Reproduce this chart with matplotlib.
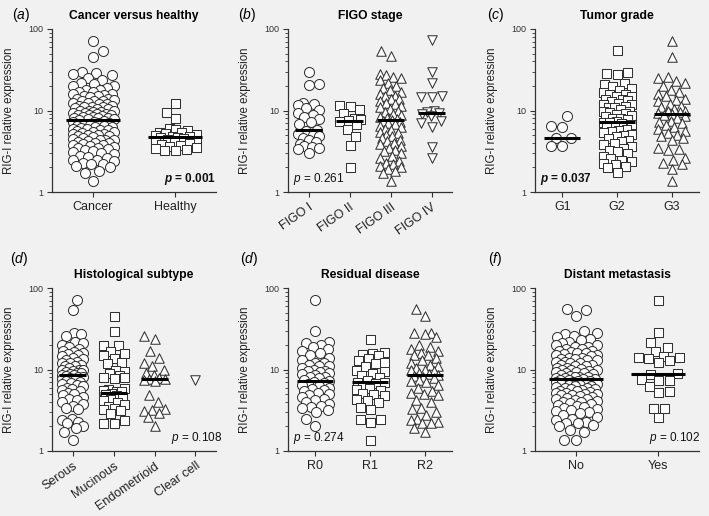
import numpy as np
import matplotlib.pyplot as plt

plt.rcParams['font.family'] = ['Liberation Sans', 'DejaVu Sans']
plt.rcParams['mathtext.fontset'] = 'custom'
plt.rcParams['mathtext.rm'] = 'Liberation Sans'
plt.rcParams['mathtext.it'] = 'Liberation Sans:italic'
plt.rcParams['mathtext.bf'] = 'Liberation Sans:bold'
plt.rcParams['mathtext.bfit'] = 'Liberation Sans:bold:italic'

BG = '#f1f1f1'
EDGE = '#333333'

# ---- data (RIG-I relative expression) ----
cancer = [72, 53, 45, 30, 29, 28, 27, 25, 24, 22, 21, 20, 20, 19, 18, 18, 17, 17, 16, 16,
          15.5, 15, 15, 14.5, 14, 14, 13.5, 13, 13, 13, 12.5, 12.5, 12, 12, 11.5, 11.5, 11, 11, 11,
          10.8, 10.5, 10.3, 10, 10, 9.8, 9.6, 9.5, 9.4, 9.2, 9, 9, 8.9, 8.8, 8.7, 8.5, 8.4, 8.3,
          8.2, 8, 8, 7.9, 7.8, 7.7, 7.5, 7.3, 7.2, 7, 7, 6.8, 6.6, 6.5, 6.4, 6.3, 6.2, 6.1, 6, 6,
          5.8, 5.7, 5.6, 5.5, 5.4, 5.3, 5.2, 5.1, 5, 5, 4.9, 4.8, 4.7, 4.6, 4.5, 4.4, 4.4, 4.3,
          4.2, 4.1, 4, 4, 3.9, 3.8, 3.8, 3.7, 3.6, 3.5, 3.5, 3.4, 3.3, 3.2, 3.1, 3, 2.9, 2.8, 2.7,
          2.6, 2.5, 2.5, 2.4, 2.3, 2.2, 2.2, 2.1, 2, 1.8, 1.7, 1.35]
healthy = [12.2, 9.5, 8.2, 6.1, 5.9, 5.7, 5.5, 5.4, 5.3, 5.2, 5.0, 4.9, 4.8, 4.7, 4.7, 4.6,
           4.5, 4.4, 4.2, 4.1, 4.0, 3.9, 3.8, 3.7, 3.6, 3.5, 3.4, 3.3, 3.3]

figo1 = [30, 21, 20.5, 12.3, 12, 11.8, 10.8, 10.2, 9.2, 8.8, 8.4, 7.8, 7.2, 6.8, 5.8, 5.6,
         5.2, 5.0, 4.8, 4.6, 4.3, 4.1, 3.9, 3.7, 3.6, 3.5, 3.4, 3.0]
figo2 = [11.7, 11.5, 10.5, 9.2, 8.2, 7.8, 7.6, 7.4, 6.9, 6.0, 4.9, 3.8, 2.0]
figo3 = [54, 46, 28, 27, 26, 25, 24, 22, 20, 19, 18, 17, 16, 15, 15, 14, 14, 13, 12.5, 12,
         11.5, 11, 10.5, 10, 9.5, 9, 8.7, 8.3, 8, 7.8, 7.6, 7.5, 7.3, 7, 6.8, 6.5, 6.2, 6, 5.8,
         5.5, 5.3, 5, 4.8, 4.6, 4.4, 4.2, 4, 3.9, 3.7, 3.5, 3.3, 3.2, 3, 2.8, 2.6, 2.4, 2.3,
         2.2, 2.1, 2.0, 1.9, 1.8, 1.7, 1.35]
figo4 = [73, 30, 22, 15, 14.5, 14.5, 10, 9.6, 9.3, 9, 8.6, 7.4, 7, 6.2, 3.6, 2.6]

g1 = [8.5, 6.4, 6.3, 4.6, 4.6, 3.7, 3.7]
g2 = [55, 30, 29, 28, 22, 21, 20, 19, 18, 17, 16, 16, 15, 15, 14, 14, 13.5, 13, 12.5, 12, 12,
      11.5, 11, 11, 10.5, 10, 10, 9.5, 9.2, 9, 8.7, 8.5, 8.2, 8, 7.8, 7.5, 7.3, 7.2, 7, 6.8,
      6.5, 6.2, 6, 5.8, 5.6, 5.4, 5.2, 5, 4.8, 4.6, 4.4, 4.2, 4, 3.9, 3.7, 3.5, 3.3, 3.2, 3,
      2.8, 2.6, 2.5, 2.4, 2.3, 2.2, 2.1, 2.0, 1.75]
g3 = [72, 45, 26, 25, 23, 22, 20, 18, 17, 16, 15, 14, 13.5, 13, 12, 11.5, 11, 10.5, 10, 10,
      9.6, 9.2, 9, 8.8, 8.5, 8, 7.5, 7.2, 7, 6.6, 6.3, 6, 5.6, 5.3, 5, 4.8, 4.6, 4.4, 3.5, 3.4,
      3.3, 2.6, 2.5, 2.3, 2.2, 1.9, 1.35]

serous = [72, 53, 28, 27, 26, 22, 21, 20, 19, 18, 17, 16.5, 16, 15.5, 15, 14.5, 14, 13.5, 13,
          12.5, 12, 12, 11.5, 11, 11, 10.5, 10, 10, 9.8, 9.5, 9.3, 9, 9, 8.8, 8.6, 8.5, 8.3,
          8.1, 8, 7.8, 7.6, 7.4, 7.2, 7, 6.8, 6.6, 6.4, 6.2, 6, 5.8, 5.6, 5.4, 5.2, 5, 4.8, 4.6,
          4.4, 4.2, 4, 3.8, 3.6, 3.4, 3.3, 2.5, 2.4, 2.3, 2.2, 2.0, 1.9, 1.7, 1.35]
mucinous = [45, 30, 20, 20, 17, 16, 15, 14, 12.5, 12, 10, 9.5, 9, 8.5, 8, 8, 7.8, 6, 5.8, 5.6,
            5.5, 5.4, 5.2, 5, 4.8, 4.6, 4.4, 4.2, 4, 3.8, 3.6, 3.4, 3.3, 3.2, 2.9, 2.4, 2.2, 2.2]
endometrioid = [26, 24, 17, 14, 12, 11, 10, 9, 8.5, 7.8, 7.7, 7.6, 7.5, 7.2, 4.9, 4, 3.3, 3.2,
                3.1, 2.9, 2.6, 2.0]
clear_cell = [7.5]

r0 = [72, 30, 22, 21, 20, 19, 18, 17, 16, 15, 14, 13, 12, 12, 11.5, 11, 11, 10.5, 10, 9.7,
      9.5, 9.2, 9, 8.8, 8.5, 8.2, 8, 7.8, 7.5, 7.3, 7, 6.8, 6.6, 6.4, 6.2, 6, 5.8, 5.6, 5.4,
      5.2, 5, 4.8, 4.6, 4.4, 4.2, 4, 3.8, 3.6, 3.5, 3.4, 3.2, 3.0, 2.5, 2.0]
r1 = [24, 16.5, 16, 15.5, 15, 14, 13, 12.5, 12, 11, 10, 9.5, 9, 8.5, 8, 7.5, 7.1, 7, 6.8, 6.2,
      6, 5.8, 5.6, 5.2, 5, 4.8, 4.4, 4.2, 4, 3.5, 3.3, 2.5, 2.5, 2.3, 1.35]
r2 = [55, 45, 28, 28, 27, 25, 20, 19, 18, 17, 16, 15, 15, 14, 13, 12, 11.5, 11, 10.5, 10, 9.8,
      9.5, 9, 8.8, 8.6, 8.4, 8, 7.8, 7.5, 7.2, 7, 6.5, 6, 5.5, 5.2, 5, 4.8, 4.2, 4, 3.4, 3.3,
      3, 2.8, 2.5, 2.4, 2.3, 2.2, 2.2, 1.9, 1.7]

meta_no = [55, 54, 45, 30, 28, 27, 26, 25, 24, 23, 22, 21, 20, 20, 19, 19, 18, 18, 17, 17,
           16.5, 16, 16, 15.5, 15, 15, 14.5, 14, 14, 13.5, 13.5, 13, 13, 12.5, 12.5, 12, 12,
           11.5, 11.5, 11, 11, 10.5, 10.5, 10.2, 10, 10, 9.8, 9.6, 9.4, 9.2, 9, 9, 8.8, 8.6,
           8.4, 8.2, 8.1, 8, 7.9, 7.8, 7.7, 7.6, 7.5, 7.4, 7.3, 7.2, 7.1, 7, 6.9, 6.8, 6.7, 6.6,
           6.5, 6.4, 6.3, 6.2, 6.1, 6, 5.9, 5.8, 5.7, 5.6, 5.5, 5.4, 5.3, 5.2, 5.1, 5, 5, 4.9,
           4.8, 4.7, 4.6, 4.5, 4.4, 4.3, 4.2, 4.1, 4, 4, 3.9, 3.8, 3.7, 3.6, 3.5, 3.4, 3.3, 3.2,
           3.1, 3.0, 2.9, 2.8, 2.6, 2.5, 2.4, 2.3, 2.2, 2.2, 2.1, 2.0, 1.8, 1.7, 1.35, 1.35]
meta_yes = [72, 28.6, 22, 19, 17, 14.5, 14.3, 14.2, 14, 13, 12.5, 9.0, 8.9, 7.6, 7.5, 7.4, 6.3,
            5.5, 5.3, 3.4, 3.4, 2.6]

# medians drawn as horizontal bars; None = no bar
med_a = [7.6, 4.7]
med_b = [5.7, 7.5, 7.6, 9.3]
med_c = [4.6, 7.2, 9.0]
med_d = [8.5, 5.2, 7.6, None]
med_e = [7.3, 7.0, 8.6]
med_f = [7.7, 8.9]

panels = [
    dict(tag='a', title='Cancer versus healthy', cats=['Cancer', 'Healthy'],
         groups=[cancer, healthy], meds=med_a, marks=['o', 's'],
         p='0.001', bold=True, px=1.0, ha='right', rot=0),
    dict(tag='b', title='FIGO stage', cats=['FIGO I', 'FIGO II', 'FIGO III', 'FIGO IV'],
         groups=[figo1, figo2, figo3, figo4], meds=med_b, marks=['o', 's', '^', 'v'],
         p='0.261', bold=False, px=0.03, ha='left', rot=35),
    dict(tag='c', title='Tumor grade', cats=['G1', 'G2', 'G3'],
         groups=[g1, g2, g3], meds=med_c, marks=['o', 's', '^'],
         p='0.037', bold=True, px=0.03, ha='left', rot=0),
    dict(tag='d', title='Histological subtype',
         cats=['Serous', 'Mucinous', 'Endometrioid', 'Clear cell'],
         groups=[serous, mucinous, endometrioid, clear_cell], meds=med_d,
         marks=['o', 's', '^', 'v'], p='0.108', bold=False, px=1.037, ha='right', rot=35),
    dict(tag='d', title='Residual disease', cats=['R0', 'R1', 'R2'],
         groups=[r0, r1, r2], meds=med_e, marks=['o', 's', '^'],
         p='0.274', bold=False, px=0.03, ha='left', rot=0),
    dict(tag='f', title='Distant metastasis', cats=['No', 'Yes'],
         groups=[meta_no, meta_yes], meds=med_f, marks=['o', 's'],
         p='0.102', bold=False, px=1.006, ha='right', rot=0),
]

W, H = 709, 516
fig = plt.figure(figsize=(W / 100, H / 100), dpi=100, facecolor=BG)

# axes boxes in pixels: left, top (value 100), width, height
lefts = [52, 288, 535]
tops = [29, 288]
label_xy = [(12, 15), (238, 15), (487, 15), (10, 259), (240, 259), (488, 259)]
ms_px = {'o': 10, 's': 9, '^': 9.5, 'v': 9.5}


def swarm_x(ax, pos, vals, d_px, half_w):
    # greedy beeswarm in pixel space, width capped at +-half_w (data units)
    v = np.asarray(vals, float)
    ypx = ax.transData.transform(np.column_stack([np.full(len(v), pos), v]))[:, 1]
    upx = ax.transData.transform((1, 0))[0] - ax.transData.transform((0, 0))[0]
    base = np.linspace(-half_w, half_w, 41) * upx
    left_first = base[np.argsort(np.abs(base), kind='stable')]
    right_first = -left_first
    px_l, py_l = [], []
    xs = np.zeros(len(v))
    for j, k in enumerate(np.argsort(ypx)):
        off = 0.0
        if px_l:
            cand = left_first if j % 2 else right_first
            pxa, pya = np.array(px_l), np.array(py_l)
            dmin = np.array([np.min(np.hypot(pxa - c, pya - ypx[k])) for c in cand])
            ok = np.where(dmin >= d_px)[0]
            off = cand[ok[0]] if len(ok) else cand[np.argmax(dmin)]
        px_l.append(off)
        py_l.append(ypx[k])
        xs[k] = off
    return pos + xs / upx


for n, pn in enumerate(panels):
    row, col = divmod(n, 3)
    l, t = lefts[col], tops[row]
    ax = fig.add_axes([l / W, 1 - (t + 163) / H, 164 / W, 163 / H])
    ax.set_facecolor('none')
    ncat = len(pn['cats'])
    ax.set_yscale('log')
    ax.set_ylim(1, 100)
    ax.set_xlim(-0.5, ncat - 0.5)
    for s in ['top', 'right']:
        ax.spines[s].set_visible(False)
    for s in ['left', 'bottom']:
        ax.spines[s].set_color(EDGE)
        ax.spines[s].set_linewidth(0.9)

    for i, (vals, mk, med) in enumerate(zip(pn['groups'], pn['marks'], pn['meds'])):
        d = ms_px[mk]
        xs = swarm_x(ax, i, vals, 1.15 * d, 0.25)
        ax.scatter(xs, vals, s=(d * 0.72) ** 2, marker=mk, facecolors='white',
                   edgecolors=EDGE, linewidths=0.75, zorder=3, clip_on=False)
        if med is not None:
            ax.hlines(med, i - 0.33, i + 0.33, color='black', lw=2.2, zorder=4)

    ax.set_yticks([1, 10, 100])
    ax.set_yticklabels(['1', '10', '100'])
    ax.tick_params(axis='y', which='major', length=3.5, width=0.8, pad=3,
                   labelsize=6.5, colors=EDGE)
    ax.tick_params(axis='y', which='minor', length=2, width=0.6, color=EDGE)
    ax.set_xticks(range(ncat))
    if pn['rot']:
        ax.set_xticklabels(pn['cats'], rotation=pn['rot'], ha='right',
                           rotation_mode='anchor')
    else:
        ax.set_xticklabels(pn['cats'])
    ax.tick_params(axis='x', length=3.5, width=0.8, pad=3, labelsize=9, colors=EDGE)
    for lb in ax.get_xticklabels():
        lb.set_color('#222222')

    ax.set_ylabel('RIG-I relative expression', fontsize=8.3, color='#222222')
    ax.yaxis.set_label_coords(-0.225, 0.5)
    ax.set_title(pn['title'], fontsize=8.7, fontweight='bold', pad=7)

    ptxt = (r'$\mathbfit{p}$ = ' if pn['bold'] else r'$\mathit{p}$ = ') + pn['p']
    ax.text(pn['px'], 0.08, ptxt, transform=ax.transAxes, ha=pn['ha'], va='center',
            fontsize=8.5, fontweight='bold' if pn['bold'] else 'normal', color='#111111')

    lx, ly = label_xy[n]
    fig.text(lx / W, 1 - ly / H, '(' + r'$\mathit{' + pn['tag'] + '}$' + ')',
             fontsize=10, va='center', ha='left')

fig.savefig('out.png', dpi=100, facecolor=BG)
